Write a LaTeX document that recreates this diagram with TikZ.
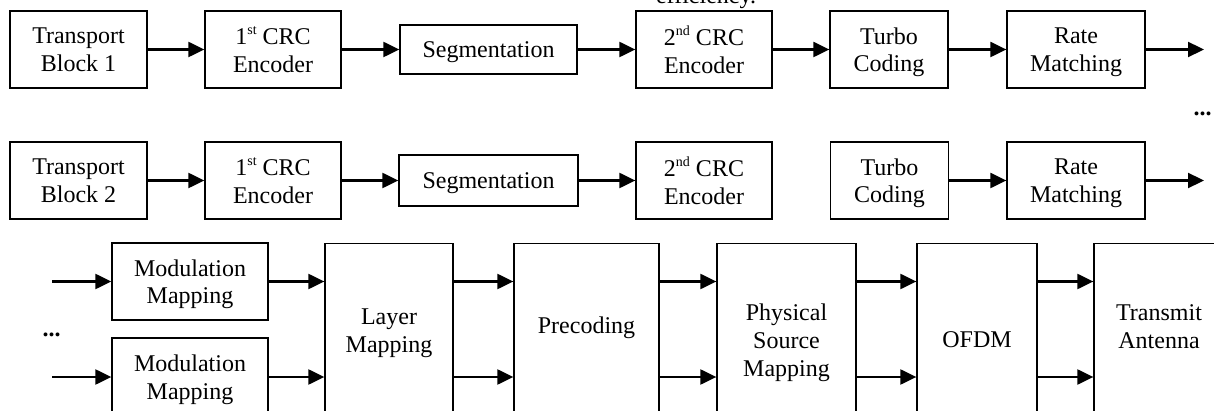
\documentclass[tikz,border=0pt]{standalone}
\usepackage{fontspec}
\setmainfont{Liberation Serif}
\usetikzlibrary{arrows.meta,calc}
\newcommand\myss[1]{\raisebox{10.5pt}{\fontsize{14}{14}\selectfont #1}}
\begin{document}
\begin{tikzpicture}[x=1pt,y=-1pt,
  font=\fontsize{24}{27.6}\selectfont,
  box/.style={draw, line width=1.3pt, inner sep=0pt, align=center, text depth=0pt},
  txt/.style={inner sep=0pt, align=center, text depth=0pt},
  arr/.style={line width=2.2pt, -{Triangle[length=16pt,width=15pt]}},
]
\useasboundingbox (0,0) rectangle (1214,411);

% partial text at top
\node[txt, anchor=base] (eff) at (706,4) {efficiency.};

% row 1
\node[box, minimum width=137pt, minimum height=77pt] (tb1) at (78.5,49.5) {Transport\\Block 1};
\node[box, minimum width=136pt, minimum height=77pt] (crcA1) at (273,49.5) {1\myss{st} CRC\\Encoder};
\node[box, minimum width=177pt, minimum height=49pt] (seg1) at (488.5,49.5) {Segmentation};
\node[box, minimum width=136pt, minimum height=77pt] (crcB1) at (704,49.5) {2\myss{nd} CRC\\Encoder};
\node[box, minimum width=118pt, minimum height=77pt] (turbo1) at (889,49.5) {Turbo\\Coding};
\node[box, minimum width=138pt, minimum height=77pt] (rate1) at (1076,49.5) {Rate\\Matching};
\coordinate (out1) at (1204,49.5);
\draw[arr] (tb1.east) -- (crcA1.west);
\draw[arr] (crcA1.east) -- (seg1.west);
\draw[arr] (seg1.east) -- (crcB1.west);
\draw[arr] (crcB1.east) -- (turbo1.west);
\draw[arr] (turbo1.east) -- (rate1.west);
\draw[arr] (rate1.east) -- (out1);

\node[txt, anchor=base] (dotsR) at (1202.5,116) {\textbf{...}};

% row 2
\node[box, minimum width=137pt, minimum height=77pt] (tb2) at (78.5,180.5) {Transport\\Block 2};
\node[box, minimum width=136pt, minimum height=77pt] (crcA2) at (273,180.5) {1\myss{st} CRC\\Encoder};
\node[box, minimum width=179pt, minimum height=51pt] (seg2) at (488.5,180.5) {Segmentation};
\node[box, minimum width=136pt, minimum height=77pt] (crcB2) at (704,180.5) {2\myss{nd} CRC\\Encoder};
\node[box, minimum width=118pt, minimum height=77pt] (turbo2) at (889.5,180.5) {Turbo\\Coding};
\node[box, minimum width=138pt, minimum height=77pt] (rate2) at (1076,180.5) {Rate\\Matching};
\coordinate (out2) at (1204,180.5);
\draw[arr] (tb2.east) -- (crcA2.west);
\draw[arr] (crcA2.east) -- (seg2.west);
\draw[arr] (seg2.east) -- (crcB2.west);
\draw[arr] (turbo2.east) -- (rate2.west);
\draw[arr] (rate2.east) -- (out2);

% row 3
\node[box, minimum width=156pt, minimum height=77pt] (mod1) at (190,281.5) {Modulation\\Mapping};
\node[box, minimum width=156pt, minimum height=78pt] (mod2) at (190,377) {Modulation\\Mapping};
\coordinate (in1) at (52,281.5);
\coordinate (in2) at (52,377);
\draw[arr] (in1) -- (mod1.west);
\draw[arr] (in2) -- (mod2.west);
\node[txt, anchor=base] (dotsL) at (51.5,336) {\textbf{...}};

\node[box, minimum width=128pt, minimum height=190pt, anchor=north] (layer) at (389,243) {};
\node[box, minimum width=145pt, minimum height=190pt, anchor=north] (prec) at (586.5,243) {};
\node[box, minimum width=139pt, minimum height=190pt, anchor=north] (psm) at (786.5,243) {};
\node[box, minimum width=120pt, minimum height=190pt, anchor=north] (ofdm) at (977,243) {};
\node[box, minimum width=130pt, minimum height=190pt, anchor=north] (ta) at (1159,243) {};

\node[txt] (layerT) at ([yshift=-87.5pt]layer.north) {Layer\\Mapping};
\node[txt] (precT) at ([yshift=-81.75pt]prec.north) {Precoding};
\node[txt] (psmT) at ([yshift=-97.25pt]psm.north) {Physical\\Source\\Mapping};
\node[txt] (ofdmT) at ([yshift=-97pt]ofdm.north) {OFDM};
\node[txt] (taT) at ([yshift=-83.5pt]ta.north) {Transmit\\Antenna};

\draw[arr] (mod1.east) -- (mod1.east -| layer.west);
\draw[arr] (mod2.east) -- (mod2.east -| layer.west);
\draw[arr] (layer.east |- mod1.east) -- (prec.west |- mod1.east);
\draw[arr] (layer.east |- mod2.east) -- (prec.west |- mod2.east);
\draw[arr] (prec.east |- mod1.east) -- (psm.west |- mod1.east);
\draw[arr] (prec.east |- mod2.east) -- (psm.west |- mod2.east);
\draw[arr] (psm.east |- mod1.east) -- (ofdm.west |- mod1.east);
\draw[arr] (psm.east |- mod2.east) -- (ofdm.west |- mod2.east);
\draw[arr] (ofdm.east |- mod1.east) -- (ta.west |- mod1.east);
\draw[arr] (ofdm.east |- mod2.east) -- (ta.west |- mod2.east);
\end{tikzpicture}
\end{document}
